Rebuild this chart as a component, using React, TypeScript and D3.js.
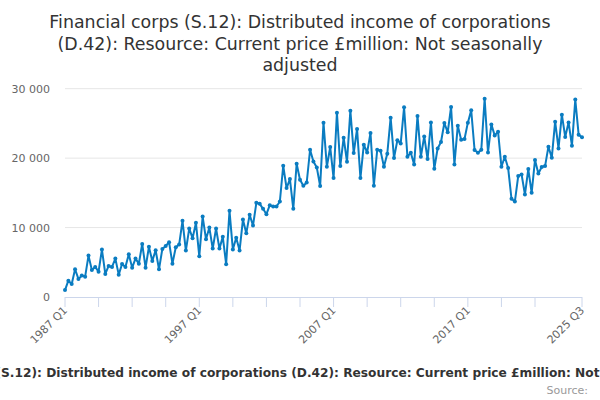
import React from 'react';
import * as d3 from 'd3';

// quarterly values, 1987 Q1 .. 2025 Q3 (£million)
const values1987to1994 = [
  1000, 2350, 1870, 4000, 2600, 3080, 2930, 5960, 3900, 4330, 3650, 6830, 3320, 4470, 4330, 5530,
  3220, 4760, 4330, 6160, 4230, 5530, 4800, 7650, 4230, 7220, 5200, 6740, 4000, 6930, 7350, 7900,
];
const values1995to2002 = [
  4800, 7170, 7550, 10970, 6680, 9860, 8470, 10680, 5870, 11590, 8330, 10000, 6970, 9860, 6970, 8660,
  4720, 12410, 6830, 8520, 6680, 11150, 9190, 11830, 10290, 13560, 13420, 12700, 11930, 13230, 13030,
];
const values2002to2009 = [
  13030, 13750, 18900, 15690, 16990, 12700, 19190, 16880, 16020, 16490, 21210, 19520, 18660, 15970,
  25110, 18760, 21600, 17130, 26550, 18860, 22940, 19480, 26840, 20740, 24200, 17130, 21930, 20820,
  23620, 16020, 21210, 21050,
];
const values2010to2017 = [
  18760, 20640, 25830, 20020, 22560, 22120, 27320, 20200, 20780, 19090, 26080, 20200, 23130, 19870,
  25150, 18470, 21400, 22320, 25060, 23710, 27370, 19090, 24680, 22660, 22760, 25110, 26890, 21170,
  20780, 21190, 28550,
];
const values2018to2025 = [
  20820, 24860, 23270, 23810, 18760, 20200, 18570, 14140, 13750, 17410, 17650, 14760, 18430, 15010,
  19730, 17790, 18720, 18860, 21650, 20060, 25250, 21400, 26260, 23050, 25150, 21790, 28430, 23380,
  22990,
];
const values = [
  ...values1987to1994,
  ...values1995to2002,
  ...values2002to2009,
  ...values2010to2017,
  ...values2018to2025,
];

const startYear = 1987;
const quarterLabel = (i: number) => `${startYear + Math.floor(i / 4)} Q${(i % 4) + 1}`;
const yTicks = [0, 10000, 20000, 30000];
const labelIdx = [0, 40, 80, 120, values.length - 1];
const tickIdx = [...d3.range(0, 141, 10), values.length - 1];

const title = [
  'Financial corps (S.12): Distributed income of corporations',
  '(D.42): Resource: Current price £million: Not seasonally',
  'adjusted',
];
const axisTitle =
  'Financial corps (S.12): Distributed income of corporations (D.42): Resource: Current price £million: Not seasonally adjusted';

const W = 600;
const H = 400;
const left = 65;
const right = 582;
const top = 88.7;
const bottom = 297;
const font = '"DejaVu Sans", sans-serif';

const fmt = (v: number) => d3.format(',')(v).replace(/,/g, ' ');

const App: React.FC = () => {
  const x = d3.scaleLinear().domain([0, values.length - 1]).range([left, right]);
  const y = d3.scaleLinear().domain([0, 30000]).range([bottom, top]);
  const line = d3
    .line<number>()
    .x((_, i) => x(i))
    .y(d => y(d));

  return (
    <svg width={W} height={H} style={{ position: 'absolute', left: 0, top: 0, fontFamily: font }}>
      <rect width={W} height={H} fill="#fff" />
      {title.map((t, i) => (
        <text key={i} x={W / 2} y={28 + i * 21.5} textAnchor="middle" fontSize={17.4} fill="#333">
          {t}
        </text>
      ))}
      {yTicks.map(t => (
        <g key={t}>
          {t > 0 && <line x1={left} x2={right} y1={y(t)} y2={y(t)} stroke="#e6e6e6" />}
          <text x={50} y={y(t) + 4} textAnchor="end" fontSize={11} fill="#666">
            {fmt(t)}
          </text>
        </g>
      ))}
      <line x1={left} x2={right} y1={bottom + 0.5} y2={bottom + 0.5} stroke="#ccd6eb" />
      {tickIdx.map(i => (
        <line key={i} x1={x(i)} x2={x(i)} y1={bottom} y2={bottom + 10} stroke="#ccd6eb" />
      ))}
      {labelIdx.map(i => (
        <text
          key={i}
          transform={`translate(${x(i) + 3},${bottom + 14}) rotate(-45)`}
          textAnchor="end"
          fontSize={11}
          fill="#666"
        >
          {quarterLabel(i)}
        </text>
      ))}
      <path d={line(values) ?? ''} fill="none" stroke="#0a7cc1" strokeWidth={2} strokeLinejoin="round" />
      {values.map((v, i) => (
        <circle key={i} cx={x(i)} cy={y(v)} r={2} fill="#0a7cc1" />
      ))}
      <text x={314} y={377} textAnchor="middle" fontSize={12.2} fontWeight="bold" fill="#333">
        {axisTitle}
      </text>
      <text x={588} y={394} textAnchor="end" fontSize={11} fill="#999">
        Source:
      </text>
    </svg>
  );
};

export default App;
